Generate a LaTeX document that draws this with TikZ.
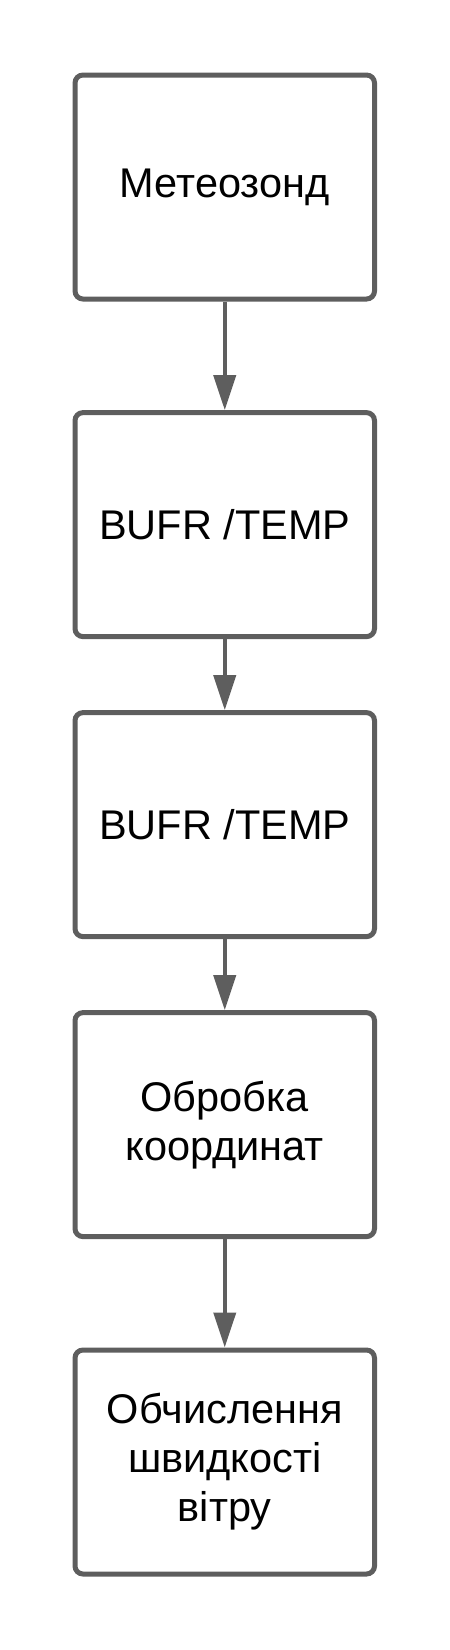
\documentclass[tikz,border=0pt]{standalone}
\usepackage{fontspec}
\setmainfont{Liberation Sans}
\usetikzlibrary{arrows.meta}
\definecolor{edgegrey}{RGB}{94,94,94}
\tikzset{
  stepbox/.style={draw=edgegrey, line width=5pt, rounded corners=8pt, rectangle,
    minimum width=299.5pt, minimum height=224pt, inner sep=0pt, align=center,
    font=\fontsize{41.5}{49}\selectfont, text=black},
  flow/.style={draw=edgegrey, line width=4pt, -{Triangle[length=35pt,width=22pt]}}
}
\begin{document}
\begin{tikzpicture}
\useasboundingbox (0,0) rectangle (450pt,-1650pt);
\node[stepbox] (b1) at (224.75pt,-187pt) {Метеозонд};
\node[stepbox] (b2) at (224.75pt,-524.6pt) {BUFR /TEMP};
\node[stepbox] (b3) at (224.75pt,-824.6pt) {BUFR /TEMP};
\node[stepbox] (b4) at (224.75pt,-1124.6pt) {Обробка\\координат};
\node[stepbox] (b5) at (224.75pt,-1462pt) {Обчислення\\швидкості\\вітру};
\draw[flow] (b1) -- (b2);
\draw[flow] (b2) -- (b3);
\draw[flow] (b3) -- (b4);
\draw[flow] (b4) -- (b5);
\end{tikzpicture}
\end{document}
